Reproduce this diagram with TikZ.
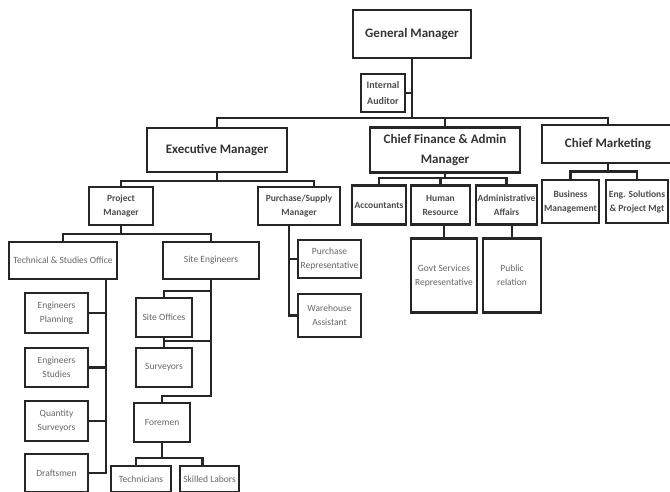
\documentclass[tikz,border=0pt]{standalone}
\usepackage{fontspec}
\setmainfont{Carlito}
\usetikzlibrary{positioning}

\begin{document}
\begin{tikzpicture}
[x=1pt,y=1pt,
 every node/.style={draw=black!85,line width=2.6pt,inner sep=0mm,outer sep=0mm,align=center},
 head/.style={font=\fontsize{13}{20}\selectfont\bfseries,text=black!80},
 mid/.style={font=\fontsize{9.5}{14}\selectfont\bfseries,text=black!70},
 unit/.style={font=\fontsize{9.5}{14}\selectfont,text=black!60},
 link/.style={draw=black!85,line width=2.6pt}]

\useasboundingbox (0,0) rectangle (670,-491);
\clip (0,0) rectangle (670,-491);

% top
\node[head,minimum width=118pt,minimum height=48pt] (GM) at (412,-34) {General Manager};
\node[mid,minimum width=44pt,minimum height=38pt,font=\fontsize{10}{16}\selectfont\bfseries] (IA) [on grid,below left=59pt and 29pt of GM] {Internal\\Auditor};
\node[head,minimum width=140pt,minimum height=44pt] (EM)  [on grid,below left=116pt and 195pt of GM]  {Executive Manager};
\node[head,minimum width=150pt,minimum height=45pt] (CFAM)[on grid,below right=116pt and 33pt of GM]  {Chief Finance \& Admin\\Manager};
\node[head,minimum width=132pt,minimum height=38pt] (CM)  [on grid,below right=110pt and 196pt of GM]  {Chief Marketing};

% executive
\node[mid,minimum width=64pt,minimum height=38pt] (PM)  [on grid,below left=56pt and 96pt of EM]   {Project\\Manager};
\node[mid,minimum width=82pt,minimum height=38pt] (PSM) [on grid,below right=56pt and 82pt of EM]  {Purchase/Supply\\Manager};

% finance
\node[mid,minimum width=54pt,minimum height=39pt] (ACC) [on grid,below left=55pt and 66pt of CFAM]    {Accountants};
\node[mid,minimum width=59pt,minimum height=39pt] (HR)  [on grid,below left=55pt and 4.5pt of CFAM]   {Human\\Resource};
\node[mid,minimum width=61pt,minimum height=39pt] (AA)  [on grid,below right=55pt and 61.5pt of CFAM] {Administrative\\Affairs};
\node[unit,minimum width=66pt,minimum height=74pt] (GSR)  [on grid,below right=70.5pt and 3.5pt of HR] {Govt Services\\Representative};
\node[unit,minimum width=58pt,minimum height=74pt] (PubR) [on grid,below right=70.5pt and 5.5pt of AA] {Public\\relation};

% marketing
\node[mid,minimum width=57pt,minimum height=43pt] (BM)  [on grid,below left=57.5pt and 37.5pt of CM] {Business\\Management};
\node[mid,minimum width=62pt,minimum height=43pt] (ESP) [on grid,below right=57.5pt and 29pt of CM]  {Eng. Solutions\\\& Project Mgt};

% project
\node[unit,minimum width=108pt,minimum height=37pt] (TSO) [on grid,below left=54.5pt and 58pt of PM]  {Technical \& Studies Office};
\node[unit,minimum width=96pt,minimum height=37pt]  (SE)  [on grid,below right=54.5pt and 90pt of PM] {Site Engineers};
\node[unit,minimum width=63pt,minimum height=40pt]  (EP)  [on grid,below left=52.5pt and 6.5pt of TSO] {Engineers\\Planning};
\node[unit,minimum width=63pt,minimum height=39pt]  (EST) [on grid,below=54.5pt of EP]                 {Engineers\\Studies};
\node[unit,minimum width=63pt,minimum height=40pt]  (QS)  [on grid,below=53.5pt of EST]                {Quantity\\Surveyors};
\node[unit,minimum width=63pt,minimum height=38pt]  (DR)  [on grid,below=52pt of QS]                   {Draftsmen};
\node[unit,minimum width=56pt,minimum height=39pt]  (SO)  [on grid,below left=57pt and 47pt of SE]     {Site Offices};
\node[unit,minimum width=56pt,minimum height=39pt]  (SU)  [on grid,below=50pt of SO]                   {Surveyors};
\node[unit,minimum width=56pt,minimum height=39pt]  (FO)  [on grid,below left=55pt and 2pt of SU]      {Foremen};
\node[unit,minimum width=60pt,minimum height=26pt]  (TE)  [on grid,below left=56.5pt and 21pt of FO]   {Technicians};
\node[unit,minimum width=59pt,minimum height=26pt]  (SL)  [on grid,below right=56.5pt and 47.5pt of FO]{Skilled Labors};

% purchase
\node[unit,minimum width=63pt,minimum height=38pt] (PR) [on grid,below right=53pt and 30.5pt of PSM] {Purchase\\Representative};
\node[unit,minimum width=63pt,minimum height=43pt] (WA) [on grid,below=56.5pt of PR]                 {Warehouse\\Assistant};

% links
\coordinate[on grid,below=84pt of GM] (BusTop);
\draw[link] (GM.south) -- (BusTop);
\draw[link] (IA.east) -- (IA.east -| BusTop);
\draw[link] (EM.north) |- (BusTop) -| (CM.north);
\draw[link] (CFAM.north) -- (CFAM.north |- BusTop);

\coordinate[on grid,below=31pt of EM] (BusEM);
\draw[link] (EM.south) -- (BusEM);
\draw[link] (PM.north) |- (BusEM) -| ([xshift=15pt]PSM.north);

\coordinate[on grid,below=28pt of CFAM] (BusFin);
\draw[link] (CFAM.south) -- (BusFin);
\draw[link] (ACC.north) |- (BusFin) -| (AA.north);
\draw[link] (HR.north) -- (HR.north |- BusFin);
\draw[link] (HR.south -| GSR.north) -- (GSR.north);
\draw[link] (AA.south -| PubR.north) -- (PubR.north);

\coordinate[on grid,below=27.5pt of CM] (BusMkt);
\draw[link] (CM.south) -- (BusMkt);
\draw[link] (BM.north) |- (BusMkt) -| (ESP.north);

\coordinate[on grid,below=28pt of PM] (BusPM);
\draw[link] (PM.south) -- (BusPM);
\draw[link] (TSO.north) |- (BusPM) -| (SE.north);

\coordinate (PSMtrunk) at ([xshift=-10pt]PSM.south);
\draw[link] (PSMtrunk) |- (WA.west);
\draw[link] (PR.west) -- (PR.west -| PSMtrunk);

\coordinate (TSOtrunk) at ([xshift=43pt]TSO.south);
\draw[link] (TSOtrunk) |- (DR.east);
\draw[link] (EP.east)  -- (EP.east -| TSOtrunk);
\draw[link] (EST.east) -- (EST.east -| TSOtrunk);
\draw[link] (QS.east)  -- (QS.east -| TSOtrunk);

\draw[link] (SE.south) -- ([yshift=-117pt]SE.south) -| (FO.north);
\draw[link] (SO.north) |- ([yshift=-12pt]SE.south);
\draw[link] (SO.south) -- (SU.north);
\draw[link] ([yshift=7pt]SU.north) -- ([yshift=-62pt]SE.south);

\coordinate[on grid,below=35.5pt of FO] (BusFO);
\draw[link] (FO.south) -- (BusFO);
\draw[link] ([xshift=-5pt]TE.north) |- (BusFO) -| ([xshift=-7pt]SL.north);

\end{tikzpicture}
\end{document}
